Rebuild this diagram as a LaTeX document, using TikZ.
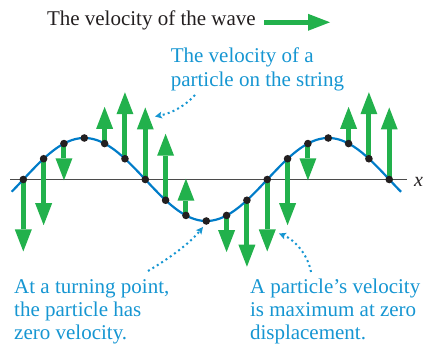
\documentclass[tikz,border=0pt]{standalone}
\usepackage{fontspec}
\setmainfont{Liberation Serif}
\usetikzlibrary{arrows.meta}
\definecolor{vgreen}{RGB}{34,177,76}
\definecolor{tblue}{RGB}{22,150,210}
\definecolor{cblue}{RGB}{0,124,200}
\definecolor{dotblack}{RGB}{35,31,32}
\definecolor{axisgray}{RGB}{75,75,75}
\begin{document}
\begin{tikzpicture}[x=1pt,y=-1pt,
  dotnode/.style={circle,fill=dotblack,inner sep=0pt,minimum size=7.6pt},
  velarrow/.style={draw=vgreen,line width=5pt,-{Triangle[length=22pt,width=17pt,line width=0pt,fill=vgreen]}},
  callout/.style={draw=tblue,line width=2pt,dash pattern=on 2pt off 3.2pt,-{Stealth[length=7pt,width=7pt,inset=1.5pt,line width=0pt,fill=tblue]}},
  bluetext/.style={text=tblue,align=left,inner sep=0pt,anchor=base west,font=\fontsize{21}{23}\selectfont},
  wavecurve/.style={draw=cblue,line width=2.2pt},
  axisline/.style={draw=axisgray,line width=1.3pt}
]
\useasboundingbox (0,0) rectangle (424,344);

% axis
\coordinate (ax0) at (10,179.7);
\coordinate (ax1) at (407,179.7);
\draw[axisline] (ax0) -- (ax1);
\node[anchor=base west,inner sep=0pt,font=\fontsize{20}{20}\selectfont\itshape,text=dotblack] (xlab) at (413.8,186.3) {x};

% dots as nodes
\foreach \i in {0,...,18} {
  \pgfmathsetmacro\px{23.3+20.33*\i}
  \pgfmathsetmacro\py{179.5-41.5*sin(30*\i)}
  \coordinate (p\i) at (\px,\py);
}
% velocity arrows
\foreach \i/\L in {0/72,1/66.5,2/36.7,4/-36.7,5/-66.5,6/-72,7/-66.5,8/-36.7,10/36.7,11/66.5,12/72,13/66.5,14/36.7,16/-36.7,17/-66.5,18/-72} {
  \coordinate (t\i) at ([yshift=-\L pt]p\i);
  \draw[velarrow] (p\i) -- (t\i);
}
% wave curve
\draw[wavecurve] plot[domain=11.7:401,samples=200,smooth] (\x,{179.5-41.5*sin(1.47541*(\x-23.3))});
\foreach \i in {0,...,18} {
  \node[dotnode] (d\i) at (p\i) {};
}

% wave velocity label
\node[anchor=base west,inner sep=0pt,font=\fontsize{21}{24}\selectfont,text=dotblack] (wl) at (46.8,25.7) {The velocity of the wave};
\coordinate (wa) at (264,22.3);
\coordinate (wb) at (330,22.3);
\draw[velarrow] (wa) -- (wb);

% callouts (multi-line nodes: base = baseline of last line)
\node[bluetext,font=\fontsize{21}{24.4}\selectfont] (c1) at (170.6,86.7) {The velocity of a\\particle on the string};
\node[bluetext] (c2) at (14,339.2) {At a turning point,\\the particle has\\zero velocity.};
\node[bluetext] (c3) at (249.8,339.2) {A particle’s velocity\\is maximum at zero\\displacement.};

\coordinate (s1) at (195,95);
\coordinate (e1) at (155,116.5);
\draw[callout] (s1) .. controls (185,106) and (172,113) .. (e1);
\coordinate (s2) at (148,271);
\coordinate (e2) at (203,227);
\draw[callout] (s2) .. controls (170,258) and (190,243) .. (e2);
\coordinate (s3) at (311,272);
\coordinate (e3) at (279,233.5);
\draw[callout] (s3) .. controls (308,255) and (295,240) .. (e3);
\end{tikzpicture}
\end{document}
